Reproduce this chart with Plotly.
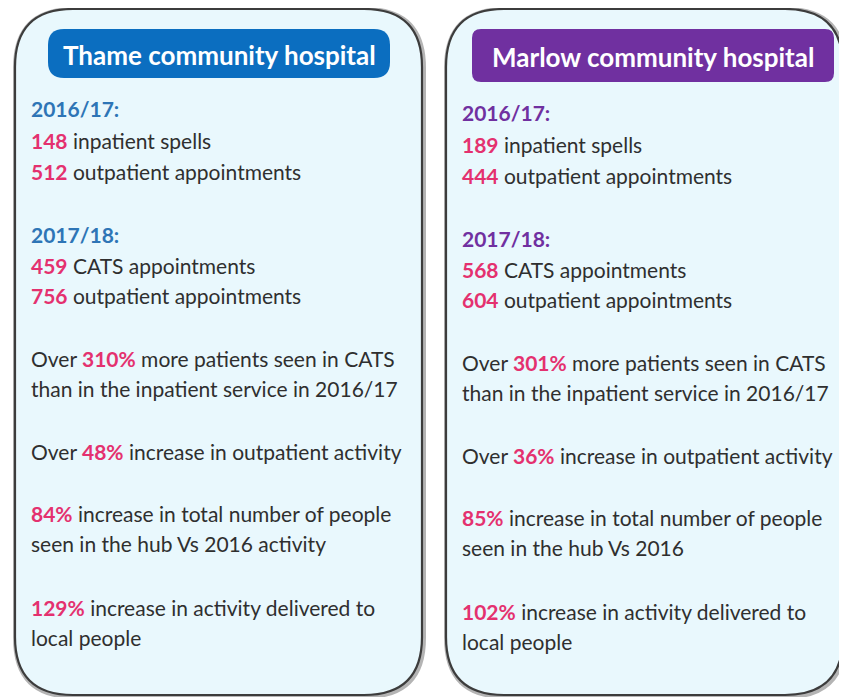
import plotly.graph_objects as go

# ---------------- data ----------------
hospitals = ["Thame community hospital", "Marlow community hospital"]
year_labels = ["2016/17:", "2017/18:"]
inpatient_spells_1617 = [148, 189]
outpatient_appts_1617 = [512, 444]
cats_appts_1718 = [459, 568]
outpatient_appts_1718 = [756, 604]
cats_vs_inpatient_pct = [310, 301]
outpatient_increase_pct = [48, 36]
total_people_increase_pct = [84, 85]
total_people_suffix = ["seen in the hub Vs 2016 activity", "seen in the hub Vs 2016"]
activity_increase_pct = [129, 102]

# ---------------- styles ----------------
W, H = 847, 697
OFF = 8  # page body margin: data coords == page pixel coords
FONT = "Lato, 'Open Sans', sans-serif"
PINK = "#e4316f"
TEXT = "#2f2f2f"
HEADER_COLORS = ["#0b6ec0", "#7030a0"]
YEAR_COLORS = ["#2e75b6", "#7030a0"]
PANEL_FILL = "#e9f8fd"
BODY_SIZE = 21
HEAD_SIZE = 26

panels = [dict(x0=15, x1=422, y0=9, y1=695, tx=29, dy=0,
               hx0=48, hx1=390, hy0=29, hy1=78, hr=16),
          dict(x0=446, x1=843, y0=9, y1=695, tx=460, dy=4,
               hx0=472, hx1=834, hy0=29, hy1=82, hr=9)]


def rounded_rect(x0, y0, x1, y1, r):
    return (f"M {x0+r},{y0} L {x1-r},{y0} Q {x1},{y0} {x1},{y0+r} "
            f"L {x1},{y1-r} Q {x1},{y1} {x1-r},{y1} "
            f"L {x0+r},{y1} Q {x0},{y1} {x0},{y1-r} "
            f"L {x0},{y0+r} Q {x0},{y0} {x0+r},{y0} Z")


def num(v, suffix=""):
    return f"<span style='color:{PINK}'><b>{v}{suffix}</b></span>"


fig = go.Figure()
shapes = []
annotations = []

line_y = [108, 140, 171, 234, 265, 295, 358, 388, 451, 513, 543, 607, 637]

for i, p in enumerate(panels):
    shapes.append(dict(type="path", path=rounded_rect(p["x0"] + 1, p["y0"] + 1, p["x1"] + 1, p["y1"] + 1, 58),
                       line=dict(color="rgba(40,40,40,0.35)", width=6), fillcolor="rgba(0,0,0,0)", layer="below"))
    shapes.append(dict(type="path", path=rounded_rect(p["x0"], p["y0"], p["x1"], p["y1"], 58),
                       line=dict(color="#3c3c3c", width=2.2), fillcolor=PANEL_FILL, layer="below"))
    shapes.append(dict(type="path", path=rounded_rect(p["hx0"], p["hy0"], p["hx1"], p["hy1"], p["hr"]),
                       line=dict(width=0), fillcolor=HEADER_COLORS[i], layer="below"))
    annotations.append(dict(x=(p["hx0"] + p["hx1"]) / 2, y=(p["hy0"] + p["hy1"]) / 2 + 1,
                            text=f"<b>{hospitals[i]}</b>", showarrow=False,
                            font=dict(family=FONT, size=HEAD_SIZE, color="white"),
                            xanchor="center", yanchor="middle"))

    lines = [
        f"<span style='color:{YEAR_COLORS[i]}'><b>{year_labels[0]}</b></span>",
        f"{num(inpatient_spells_1617[i])} inpatient spells",
        f"{num(outpatient_appts_1617[i])} outpatient appointments",
        f"<span style='color:{YEAR_COLORS[i]}'><b>{year_labels[1]}</b></span>",
        f"{num(cats_appts_1718[i])} CATS appointments",
        f"{num(outpatient_appts_1718[i])} outpatient appointments",
        f"Over {num(cats_vs_inpatient_pct[i], '%')} more patients seen in CATS",
        "than in the inpatient service in 2016/17",
        f"Over {num(outpatient_increase_pct[i], '%')} increase in outpatient activity",
        f"{num(total_people_increase_pct[i], '%')} increase in total number of people",
        total_people_suffix[i],
        f"{num(activity_increase_pct[i], '%')} increase in activity delivered to",
        "local people",
    ]
    for txt, y in zip(lines, line_y):
        annotations.append(dict(x=p["tx"], y=y + p["dy"], text=txt, showarrow=False,
                                xanchor="left", yanchor="middle",
                                font=dict(family=FONT, size=BODY_SIZE, color=TEXT)))

fig.update_layout(
    width=W, height=H,
    margin=dict(l=0, r=0, t=0, b=0),
    paper_bgcolor="white", plot_bgcolor="white",
    xaxis=dict(range=[OFF, W + OFF], visible=False, fixedrange=True),
    yaxis=dict(range=[H + OFF, OFF], visible=False, fixedrange=True),
    shapes=shapes, annotations=annotations, showlegend=False,
)

fig.write_html("out.html")
